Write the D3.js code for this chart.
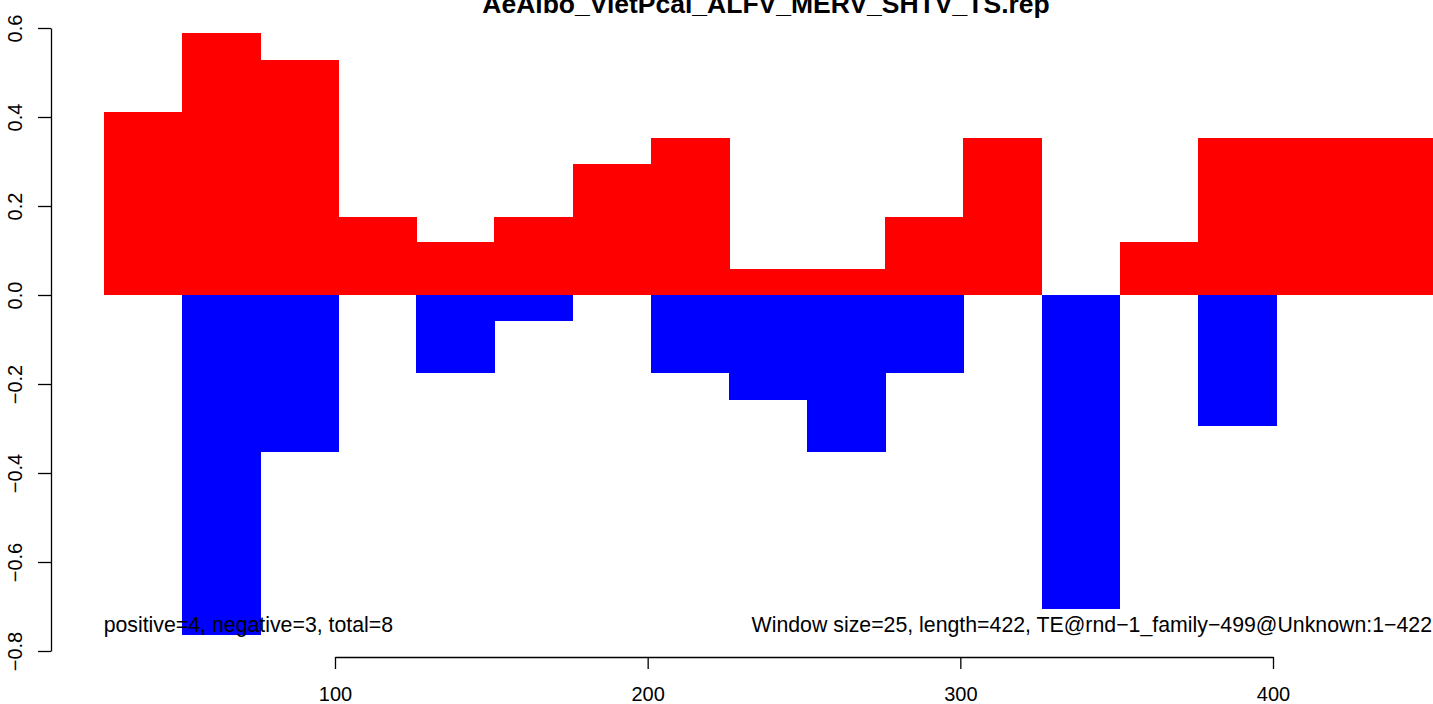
<!DOCTYPE html>
<html>
<head>
<meta charset="utf-8">
<script src="https://cdn.jsdelivr.net/npm/d3@7"></script>
<style>
html,body{margin:0;padding:0;background:#fff;overflow:hidden;}
svg{display:block;font-family:"Liberation Sans",Arial,Helvetica,sans-serif;}
</style>
</head>
<body>
<svg id="chart" width="1433" height="704"></svg>
<script>
const titleText = "AeAlbo_VietPcal_ALFV_MERV_SHTV_TS.rep";
const leftNote = "positive=4, negative=3, total=8";
const rightNote = "Window size=25, length=422, TE@rnd\u22121_family\u2212499@Unknown:1\u2212422";
const windowStarts = [26, 51, 76, 101, 126, 151, 176, 201, 226, 251, 276, 301, 326, 351, 376, 401, 426];
const windowSize = 25;
const positiveValues = [0.412, 0.588, 0.529, 0.176, 0.118, 0.176, 0.294, 0.353, 0.059, 0.059, 0.176, 0.353, 0, 0.118, 0.353, 0.353, 0.353];
const negativeValues = [0, -0.765, -0.353, 0, -0.176, -0.059, 0, -0.176, -0.235, -0.353, -0.176, 0, -0.706, 0, -0.294, 0, 0];
const xTicks = [100, 200, 300, 400];
const yTicks = [-0.8, -0.6, -0.4, -0.2, 0.0, 0.2, 0.4, 0.6];

const svg = d3.select("#chart");
const x = d3.scaleLinear().domain([100, 400]).range([335, 1273]);
const y = d3.scaleLinear().domain([-0.8, 0.6]).range([651, 28]);

const bars = windowStarts.map((s, i) => ({s, e: s + windowSize, p: positiveValues[i], n: negativeValues[i]}));

svg.append("g").attr("shape-rendering", "crispEdges")
  .selectAll("rect").data(bars.filter(d => d.p > 0)).join("rect")
  .attr("x", d => x(d.s)).attr("width", d => x(d.e) - x(d.s) + 0.6)
  .attr("y", d => y(d.p)).attr("height", d => y(0) - y(d.p))
  .attr("fill", "#FF0000");

svg.append("g").attr("shape-rendering", "crispEdges")
  .selectAll("rect").data(bars.filter(d => d.n < 0)).join("rect")
  .attr("x", d => x(d.s)).attr("width", d => x(d.e) - x(d.s) + 0.6)
  .attr("y", y(0)).attr("height", d => y(d.n) - y(0))
  .attr("fill", "#0000FF");

// Y axis
const yAxis = svg.append("g").attr("transform", "translate(51,0)")
  .call(d3.axisLeft(y).tickValues(yTicks).tickFormat(d3.format(".1f")).tickSizeInner(13).tickSizeOuter(0));
yAxis.select(".domain").attr("stroke", "#000").attr("stroke-width", 1.3);
yAxis.selectAll(".tick line").attr("stroke", "#000").attr("stroke-width", 1.3);
yAxis.selectAll(".tick text")
  .attr("x", null).attr("dy", null)
  .attr("transform", "translate(-29,0) rotate(-90)")
  .attr("text-anchor", "middle")
  .attr("font-size", 20).attr("fill", "#000")
  .text(d => d3.format(".1f")(d).replace("-", "\u2212"));

// X axis
const xAxis = svg.append("g").attr("transform", "translate(0,657)")
  .call(d3.axisBottom(x).tickValues(xTicks).tickFormat(d3.format("d")).tickSizeInner(12).tickSizeOuter(0));
xAxis.select(".domain").attr("stroke", "#000").attr("stroke-width", 1.3);
xAxis.selectAll(".tick line").attr("stroke", "#000").attr("stroke-width", 1.3);
xAxis.selectAll(".tick text").attr("y", 44).attr("dy", null).attr("font-size", 20).attr("fill", "#000");

// Notes
svg.append("text").attr("x", x(26)).attr("y", 632).attr("font-size", 21.3).attr("fill", "#000").text(leftNote);
svg.append("text").attr("x", 1432).attr("y", 632).attr("text-anchor", "end").attr("font-size", 21.3).attr("fill", "#000").text(rightNote);

// Title
svg.append("text").attr("x", 766).attr("y", 13).attr("text-anchor", "middle")
  .attr("font-size", 26.5).attr("font-weight", "bold").attr("fill", "#000").text(titleText);
</script>
</body>
</html>
